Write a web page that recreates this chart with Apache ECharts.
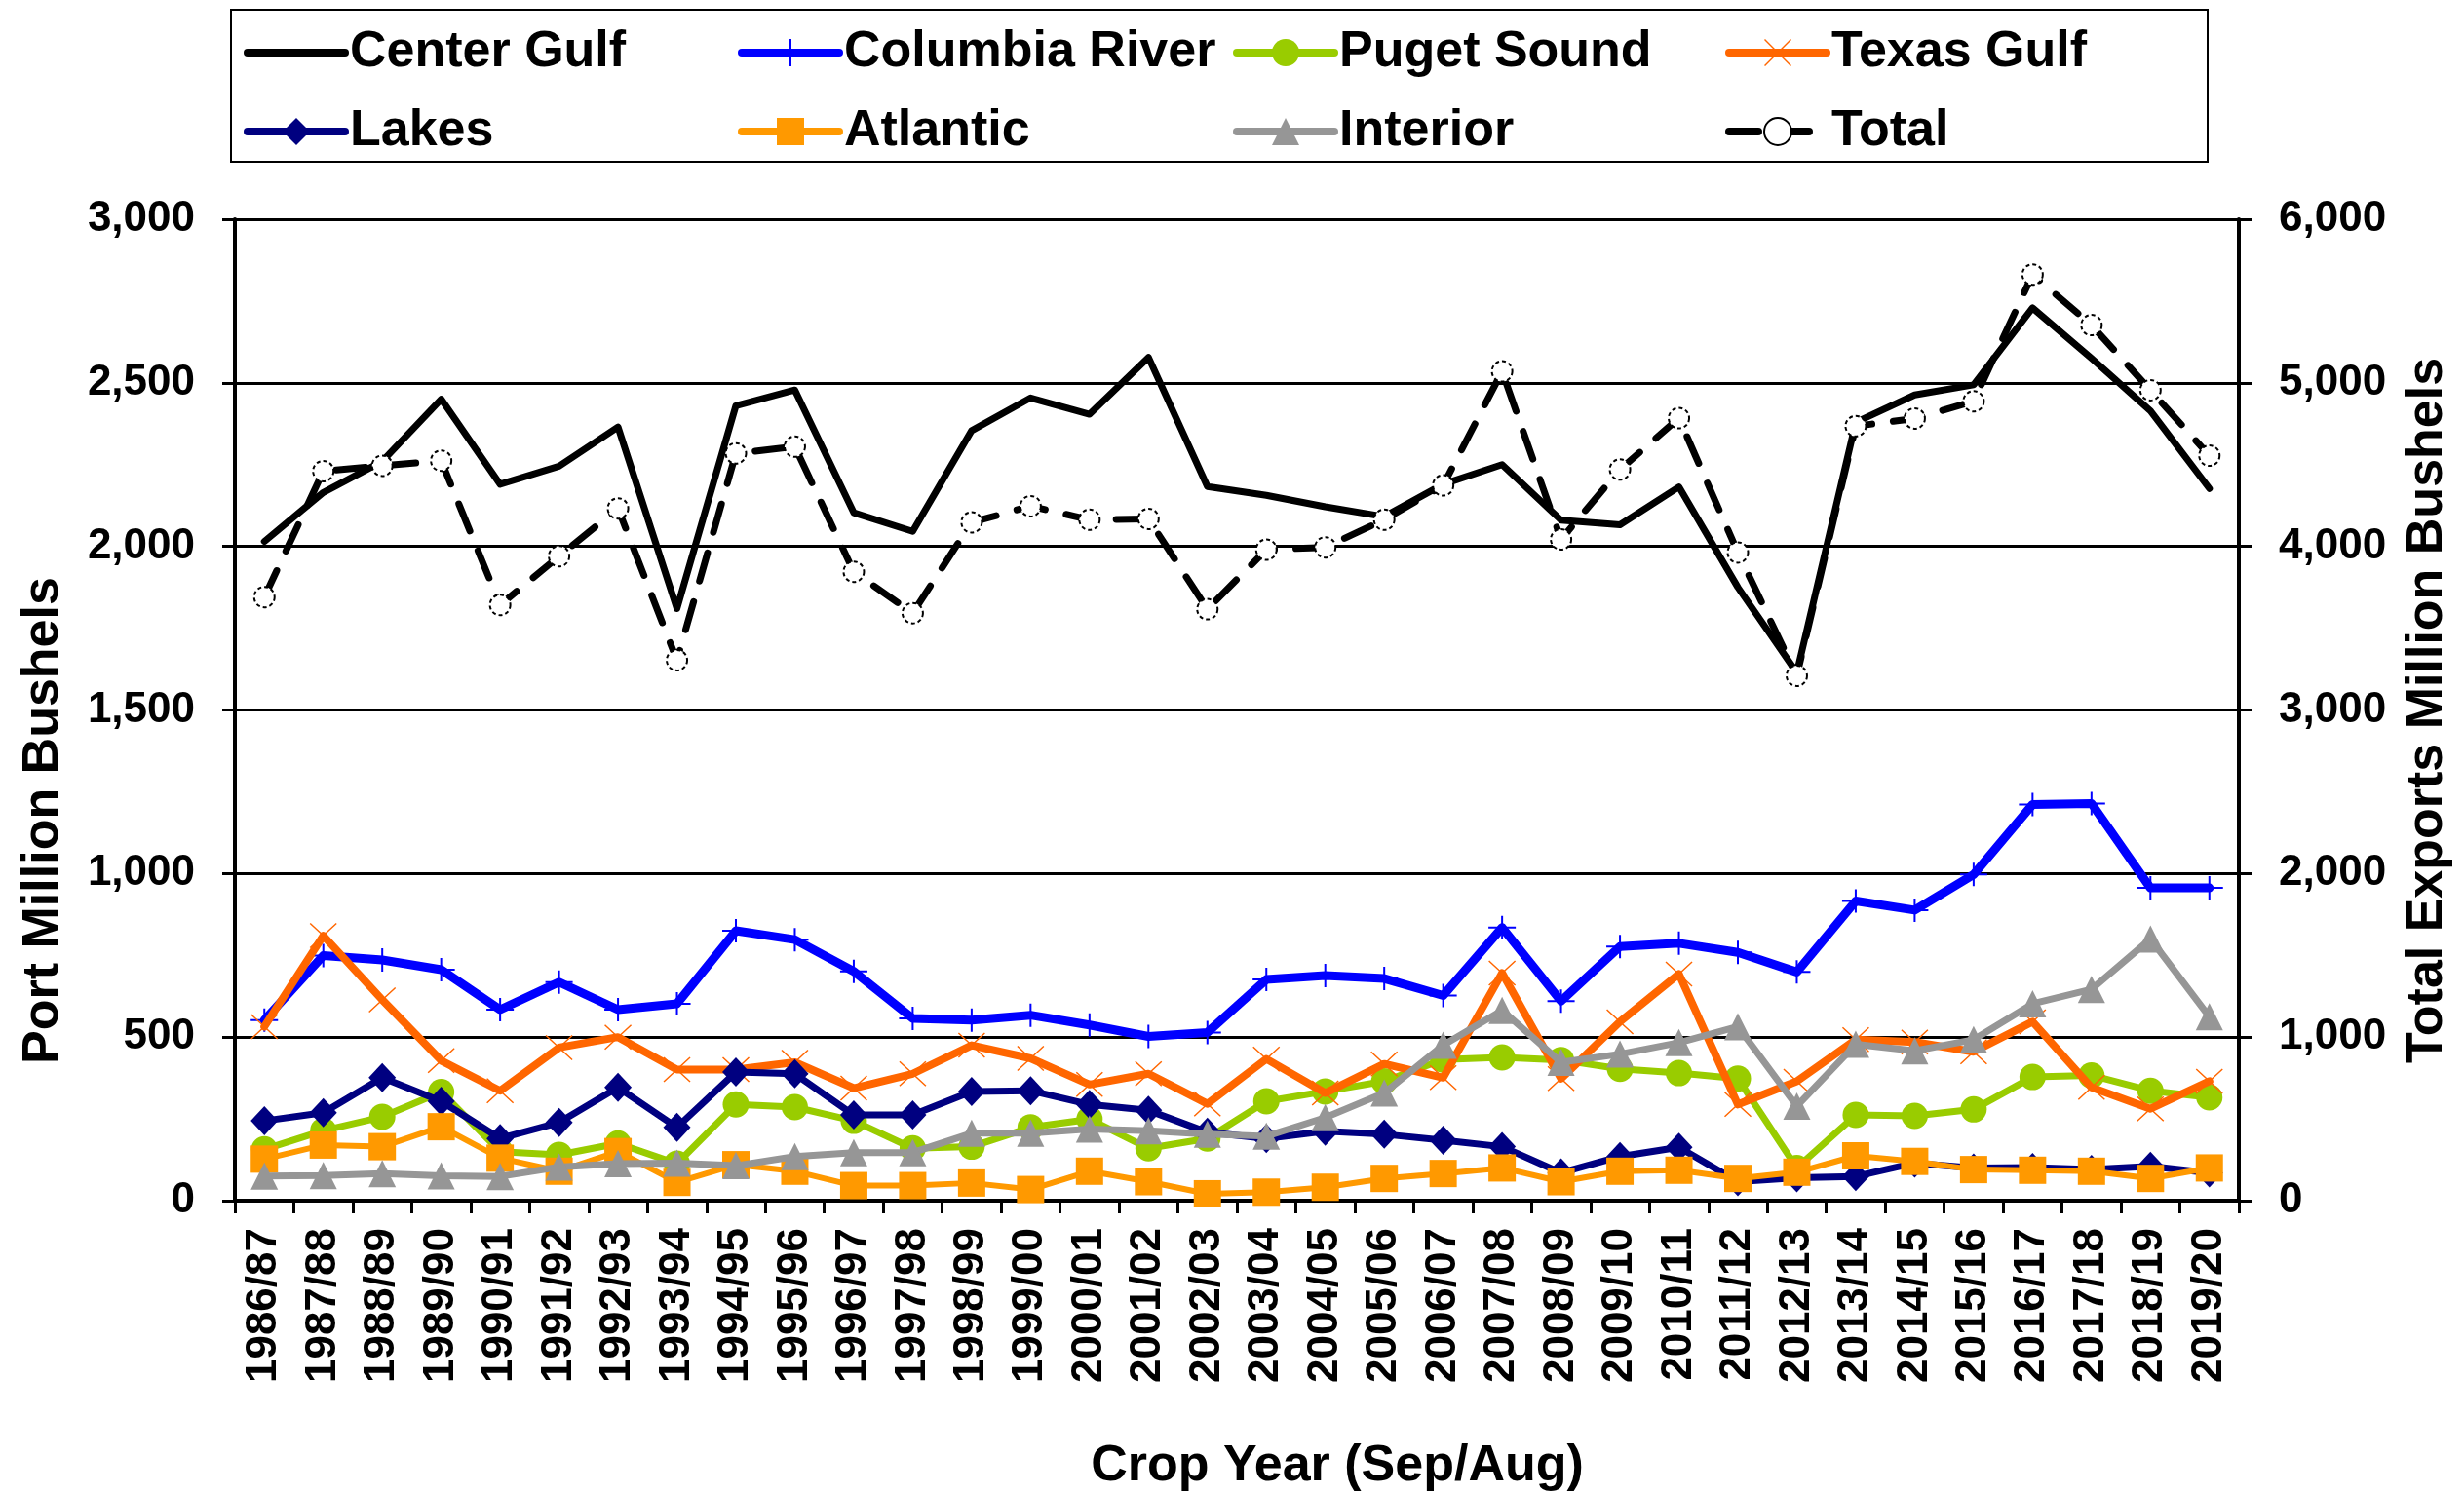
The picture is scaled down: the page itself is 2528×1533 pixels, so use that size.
<!DOCTYPE html>
<html>
<head>
<meta charset="utf-8">
<title>Port Exports</title>
<script src="https://cdn.jsdelivr.net/npm/echarts@6.0.0/dist/echarts.min.js"></script>
<style>
  html, body { margin: 0; padding: 0; background: #fff; }
  #chart { width: 2528px; height: 1533px; }
</style>
</head>
<body>
<div id="chart"></div>
<script>
// crop years
var categories = ["1986/87", "1987/88", "1988/89", "1989/90", "1990/91", "1991/92", "1992/93", "1993/94",
  "1994/95", "1995/96", "1996/97", "1997/98", "1998/99", "1999/00", "2000/01", "2001/02", "2002/03",
  "2003/04", "2004/05", "2005/06", "2006/07", "2007/08", "2008/09", "2009/10", "2010/11", "2011/12",
  "2012/13", "2013/14", "2014/15", "2015/16", "2016/17", "2017/18", "2018/19", "2019/20"];

// port values, million bushels (left axis)
var centerGulf = [2015, 2165, 2260, 2450, 2190, 2245, 2365, 1810, 2430, 2478, 2103, 2046, 2354, 2454, 2404, 2578, 2183,
  2156, 2121, 2091, 2190, 2250, 2080, 2066, 2182, 1875, 1614, 2379, 2463, 2494, 2729, 2575, 2414, 2177];
var columbiaRiver = [552, 749, 736, 706, 584, 668, 584, 602, 825, 798, 701, 557, 552, 567, 537, 502, 514,
  676, 688, 679, 627, 835, 610, 777, 787, 759, 699, 916, 888, 997, 1211, 1214, 956, 956];
var pugetSound = [157, 214, 256, 332, 150, 140, 175, 113, 294, 286, 244, 160, 165, 224, 249, 160, 190,
  304, 334, 365, 431, 438, 430, 403, 390, 373, 100, 262, 259, 279, 378, 383, 336, 316];
var texasGulf = [532, 810, 614, 428, 336, 468, 500, 401, 401, 423, 344, 388, 475, 435, 355, 388, 296,
  433, 329, 418, 376, 696, 373, 547, 693, 294, 365, 492, 485, 455, 547, 346, 281, 365];
var lakes = [244, 269, 376, 304, 190, 239, 346, 224, 393, 388, 262, 262, 334, 336, 294, 276, 209,
  190, 212, 203, 185, 165, 85, 135, 163, 58, 70, 74, 115, 100, 101, 95, 105, 85];
var atlantic = [127, 170, 165, 226, 130, 90, 150, 56, 110, 90, 46, 46, 54, 34, 90, 58, 21,
  26, 41, 68, 83, 100, 58, 90, 93, 68, 87, 137, 120, 95, 93, 90, 68, 100];
var interior = [75, 77, 83, 76, 74, 103, 113, 115, 107, 135, 147, 147, 206, 206, 219, 214, 203,
  197, 254, 329, 475, 582, 423, 448, 483, 532, 289, 478, 458, 492, 602, 646, 800, 562];

// total exports (right axis)
var totalExports = [3690, 4460, 4493, 4524, 3642, 3940, 4232, 3304, 4569, 4610, 3845, 3592, 4147, 4246, 4163, 4168, 3616,
  3980, 3994, 4163, 4373, 5070, 4043, 4470, 4784, 3963, 3209, 4735, 4782, 4887, 5662, 5353, 4955, 4555];

var FONT = '"Liberation Sans", Arial, sans-serif';

// thin plus / cross markers (Excel style)
var plusPath = "path://M13,0 L15,0 L15,11 L28,11 L28,13 L15,13 L15,24 L13,24 L13,13 L0,13 L0,11 L13,11 Z";
var crossPath = "path://M0,1 L1,0 L14,12 L27,0 L28,1 L15,13 L28,25 L27,26 L14,14 L1,26 L0,25 L13,13 Z";

var seriesDefs = [
  { name: "Center Gulf", data: centerGulf, color: "#000000", width: 7, symbol: "none", size: 0 },
  { name: "Columbia River", data: columbiaRiver, color: "#0000FF", width: 9, symbol: plusPath, size: [28, 24] },
  { name: "Puget Sound", data: pugetSound, color: "#99CC00", width: 7, symbol: "circle", size: 27 },
  { name: "Texas Gulf", data: texasGulf, color: "#FF6600", width: 8, symbol: crossPath, size: [28, 26] },
  { name: "Lakes", data: lakes, color: "#000080", width: 7, symbol: "diamond", size: [28, 30] },
  { name: "Atlantic", data: atlantic, color: "#FF9900", width: 6, symbol: "rect", size: 28 },
  { name: "Interior", data: interior, color: "#969696", width: 7, symbol: "triangle", size: 28 },
];

var seriesData = [];
for (var i = 0; i < seriesDefs.length; i++) {
  var s = seriesDefs[i];
  seriesData.push({
    name: s.name,
    type: "line",
    yAxisIndex: 0,
    data: s.data,
    symbol: s.symbol,
    symbolSize: s.size,
    showAllSymbol: true,
    z: 2 + i,
    itemStyle: { color: s.color },
    lineStyle: { color: s.color, width: s.width, cap: "round", join: "round" },
    emphasis: { disabled: true },
  });
}
seriesData.push({
  name: "Total",
  type: "line",
  yAxisIndex: 1,
  data: totalExports,
  symbol: "circle",
  symbolSize: 21,
  showAllSymbol: true,
  z: 10,
  itemStyle: { color: "#ffffff", borderColor: "#000000", borderWidth: 2, borderType: [4, 3] },
  lineStyle: { color: "#000000", width: 7, type: [30, 22], cap: "round" },
  emphasis: { disabled: true },
});

// legend: 4 columns x 2 rows, each item placed on its own
var legendCols = [250, 757, 1265, 1770];
var legendRows = [28, 109];
var legendOrder = [
  ["Center Gulf", "Columbia River", "Puget Sound", "Texas Gulf"],
  ["Lakes", "Atlantic", "Interior", "Total"],
];
var legend = [];
for (var r = 0; r < 2; r++) {
  for (var c = 0; c < 4; c++) {
    var nm = legendOrder[r][c];
    legend.push({
      data: [nm],
      left: legendCols[c],
      top: legendRows[r],
      padding: 0,
      itemWidth: 100,
      itemHeight: 35,
      selectedMode: false,
      // Center Gulf has no marker, only the line
      itemStyle: nm == "Center Gulf" ? { opacity: 0 } : {},
      lineStyle: { width: 8, cap: "round" },
      textStyle: { color: "#000", fontSize: 52, fontWeight: "bold", fontFamily: FONT },
    });
  }
}

var axisLabelStyle = { color: "#000", fontSize: 44, fontWeight: "bold", fontFamily: FONT };

function fmt(v) {
  return v.toLocaleString("en-US");
}

var option = {
  animation: false,
  backgroundColor: "#ffffff",
  grid: { left: 241, right: 231, top: 225, bottom: 301, containLabel: false },
  legend: legend,
  xAxis: {
    type: "category",
    data: categories,
    boundaryGap: true,
    axisLine: { show: true, lineStyle: { color: "#000", width: 4 } },
    axisTick: { show: true, length: 13, interval: 0, lineStyle: { color: "#000", width: 3 } },
    axisLabel: Object.assign({ rotate: 90, interval: 0, margin: 28 }, axisLabelStyle),
    splitLine: { show: false },
  },
  yAxis: [
    {
      type: "value",
      min: 0,
      max: 3000,
      interval: 500,
      axisLine: { show: true, lineStyle: { color: "#000", width: 4 } },
      axisTick: { show: true, length: 13, lineStyle: { color: "#000", width: 3 } },
      axisLabel: Object.assign({ margin: 41, formatter: fmt }, axisLabelStyle),
      splitLine: { show: true, lineStyle: { color: "#000", width: 3 } },
    },
    {
      type: "value",
      min: 0,
      max: 6000,
      interval: 1000,
      position: "right",
      axisLine: { show: true, lineStyle: { color: "#000", width: 4 } },
      axisTick: { show: true, length: 13, lineStyle: { color: "#000", width: 3 } },
      axisLabel: Object.assign({ margin: 41, formatter: fmt }, axisLabelStyle),
      splitLine: { show: false },
    },
  ],
  graphic: [
    {
      // legend frame
      type: "rect",
      shape: { x: 237, y: 10, width: 2028, height: 156 },
      style: { fill: "none", stroke: "#000", lineWidth: 2 },
      z: -1,
    },
    {
      type: "text",
      x: 45,
      y: 842,
      rotation: Math.PI / 2,
      style: { text: "Port Million Bushels", fontSize: 52, fontWeight: "bold", fontFamily: FONT, fill: "#000", align: "center", verticalAlign: "middle" },
    },
    {
      type: "text",
      x: 2491,
      y: 729,
      rotation: Math.PI / 2,
      style: { text: "Total Exports Million Bushels", fontSize: 52, fontWeight: "bold", fontFamily: FONT, fill: "#000", align: "center", verticalAlign: "middle" },
    },
    {
      type: "text",
      x: 1372,
      y: 1505,
      style: { text: "Crop Year (Sep/Aug)", fontSize: 52, fontWeight: "bold", fontFamily: FONT, fill: "#000", align: "center", verticalAlign: "middle" },
    },
  ],
  series: seriesData,
};

var chart = echarts.init(document.getElementById("chart"), null, { renderer: "canvas" });
chart.setOption(option);
</script>
</body>
</html>
